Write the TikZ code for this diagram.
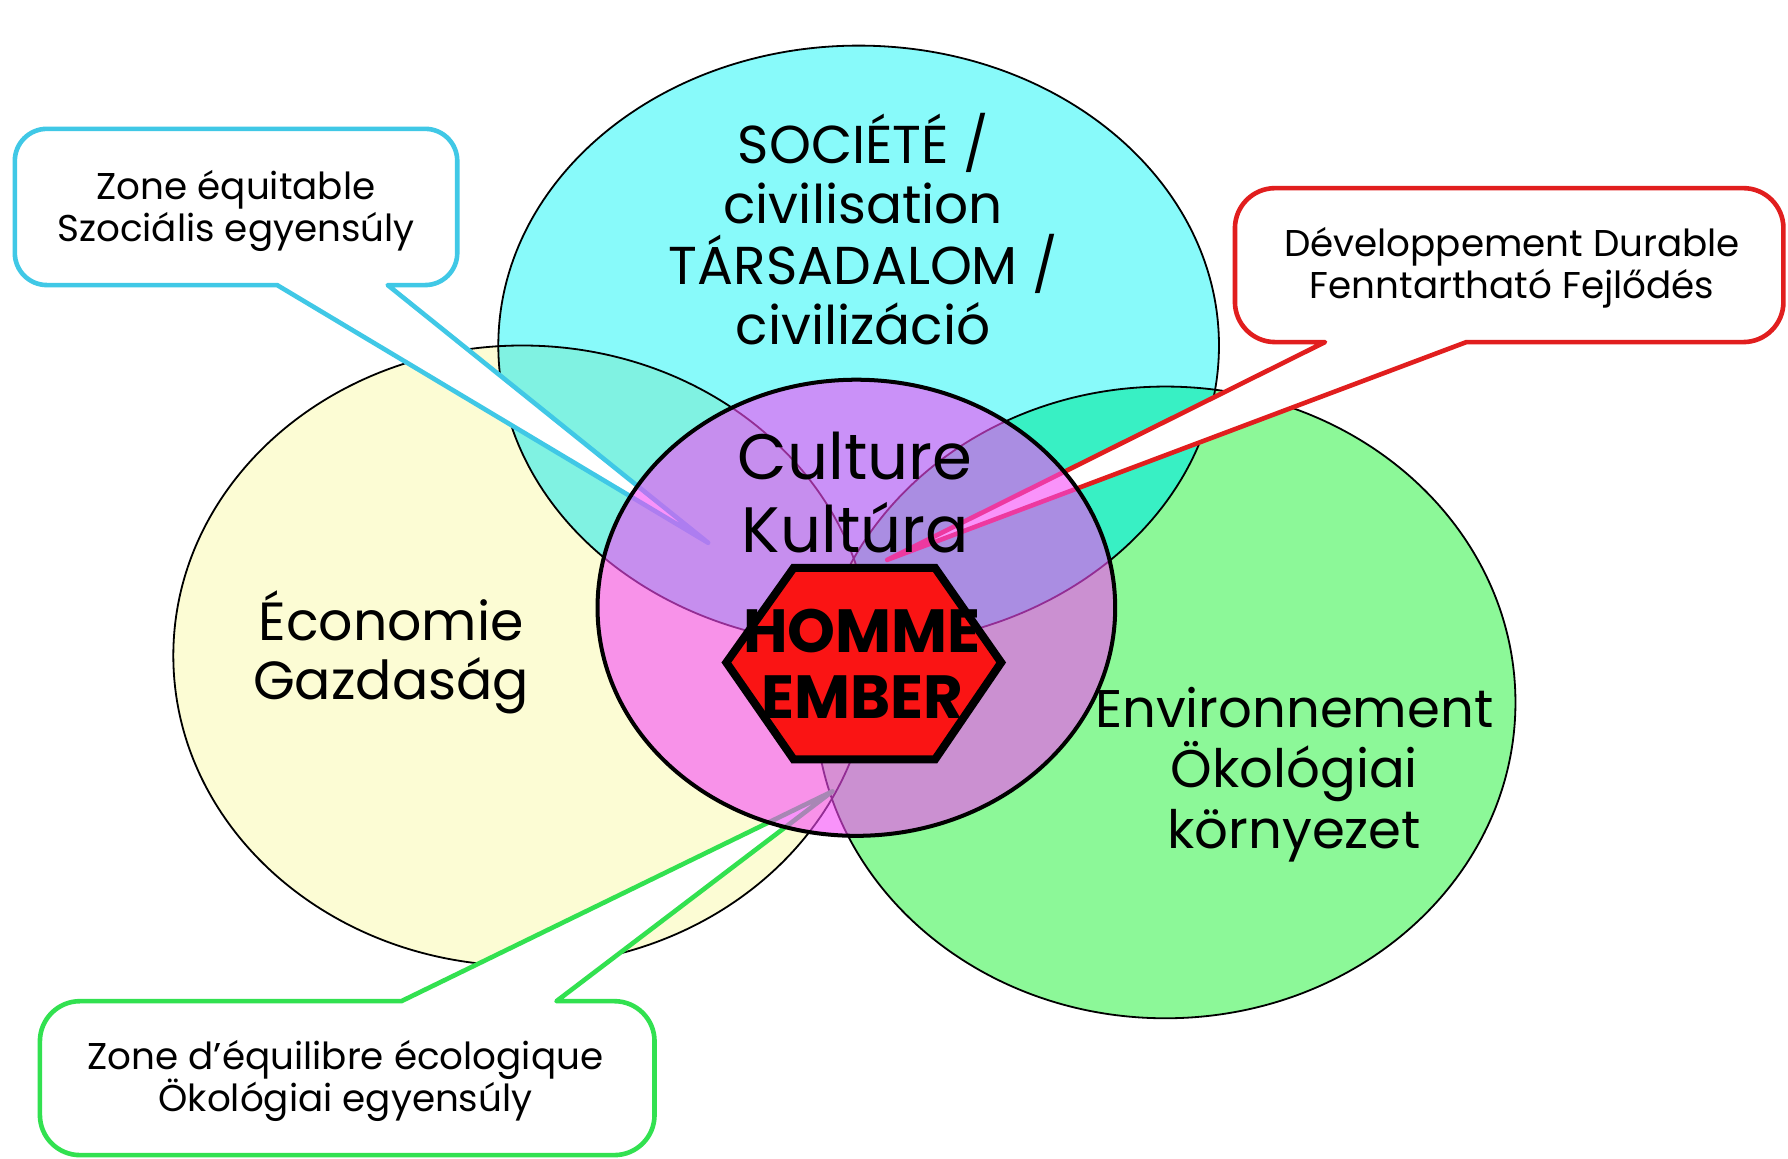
\documentclass[tikz,border=0pt]{standalone}
\usepackage{fontspec}
\setmainfont{Poppins}
\definecolor{cyanC}{RGB}{136,250,250}
\definecolor{yellowC}{RGB}{252,252,212}
\definecolor{greenC}{RGB}{140,248,152}
\definecolor{cyYe}{RGB}{128,242,226}
\definecolor{cyGr}{RGB}{56,240,196}
\definecolor{yeGr}{RGB}{170,245,160}
\definecolor{overlayC}{RGB}{246,76,247}
\definecolor{hexRed}{RGB}{250,20,20}
\definecolor{calCyan}{RGB}{64,200,230}
\definecolor{calRed}{RGB}{225,30,30}
\definecolor{calGreen}{RGB}{50,225,80}
\newcommand{\noskip}{\lineskiplimit=-20pt\relax}
\tikzset{
  circline/.style={draw=black,line width=0.45pt},
  callout/.style={fill=white,line width=1.15pt,line join=round},
  bigtext/.style={font=\fontsize{13.3}{15}\selectfont\noskip,align=center,inner sep=0pt},
  midtext/.style={font=\fontsize{13.4}{14.9}\selectfont\noskip,align=center,inner sep=0pt},
  envtext/.style={font=\fontsize{13.2}{15.1}\selectfont\noskip,align=center,inner sep=0pt},
  cultext/.style={font=\fontsize{16}{18.2}\selectfont\noskip,align=center,inner sep=0pt},
  caltext/.style={font=\fontsize{9.3}{10.5}\selectfont\noskip,align=center,inner sep=0pt},
  hextext/.style={font=\bfseries\fontsize{15.2}{16.5}\selectfont\noskip,align=center,inner sep=0pt}
}
\def\ellY{(458,575) ellipse [x radius=306, y radius=272]}
\def\ellG{(1022,616) ellipse [x radius=307, y radius=277]}
\def\ellC{(753,303) ellipse [x radius=316, y radius=263]}
\def\ellM{(751,533) ellipse [x radius=227, y radius=200]}
\begin{document}
\begin{tikzpicture}[x=0.01cm,y=-0.01cm]
\useasboundingbox (0,0) rectangle (1568,1016);
\fill[white] (0,0) rectangle (1568,1016);
% base circles
\fill[yellowC] \ellY;
\fill[greenC] \ellG;
\fill[cyanC] \ellC;
\begin{scope}\clip \ellC; \fill[cyYe] \ellY; \fill[cyGr] \ellG; \end{scope}
\begin{scope}\clip \ellY; \fill[yeGr] \ellG; \end{scope}
\draw[circline] \ellY;
\draw[circline] \ellG;
\draw[circline] \ellC;
% callouts
\coordinate (tipC) at (621,476);
\coordinate (tipR) at (778,491);
\coordinate (tipG) at (730,694);
\draw[callout,draw=calCyan] (340,250) [rounded corners=8pt] -- (401,250) -- (401,113) -- (13,113) -- (13,250) [rounded corners=0pt] -- (243,250) -- (tipC) -- cycle;
\draw[callout,draw=calRed] (1162,300) [rounded corners=10pt] -- (1083,300) -- (1083,165) -- (1564,165) -- (1564,300) [rounded corners=0pt] -- (1286,300) -- (tipR) -- cycle;
\draw[callout,draw=calGreen] (352,878) [rounded corners=10pt] -- (35,878) -- (35,1013) -- (574,1013) -- (574,878) [rounded corners=0pt] -- (488,878) -- (tipG) -- cycle;
% central overlay
\fill[overlayC,fill opacity=0.6] \ellM;
\draw[black,line width=1pt] \ellM;
% hexagon
\draw[fill=hexRed,draw=black,line width=2pt,line join=miter] (637,581) -- (696,498) -- (820,498) -- (878,581) -- (820,666) -- (696,666) -- cycle;
% texts
\node[bigtext] (soc) at (757,201) {SOCIÉTÉ /\\civilisation\\TÁRSADALOM /\\civilizáció};
\node[cultext] (cul) at (750,432) {Culture\\Kultúra};
\node[midtext] (eco) at (343,572) {Économie\\Gazdaság};
\node[envtext] (env) at (1135,679) {Environnement\\Ökológiai\\környezet};
\node[hextext] (hom) at (756,582) {HOMME\\EMBER};
\node[caltext] (zc) at (207,185) {Zone équitable\\Szociális egyensúly};
\node[caltext] (zr) at (1326,235) {Développement Durable\\Fenntartható Fejlődés};
\node[caltext] (zg) at (303,948) {Zone d'équilibre écologique\\Ökológiai egyensúly};
\end{tikzpicture}
\end{document}
